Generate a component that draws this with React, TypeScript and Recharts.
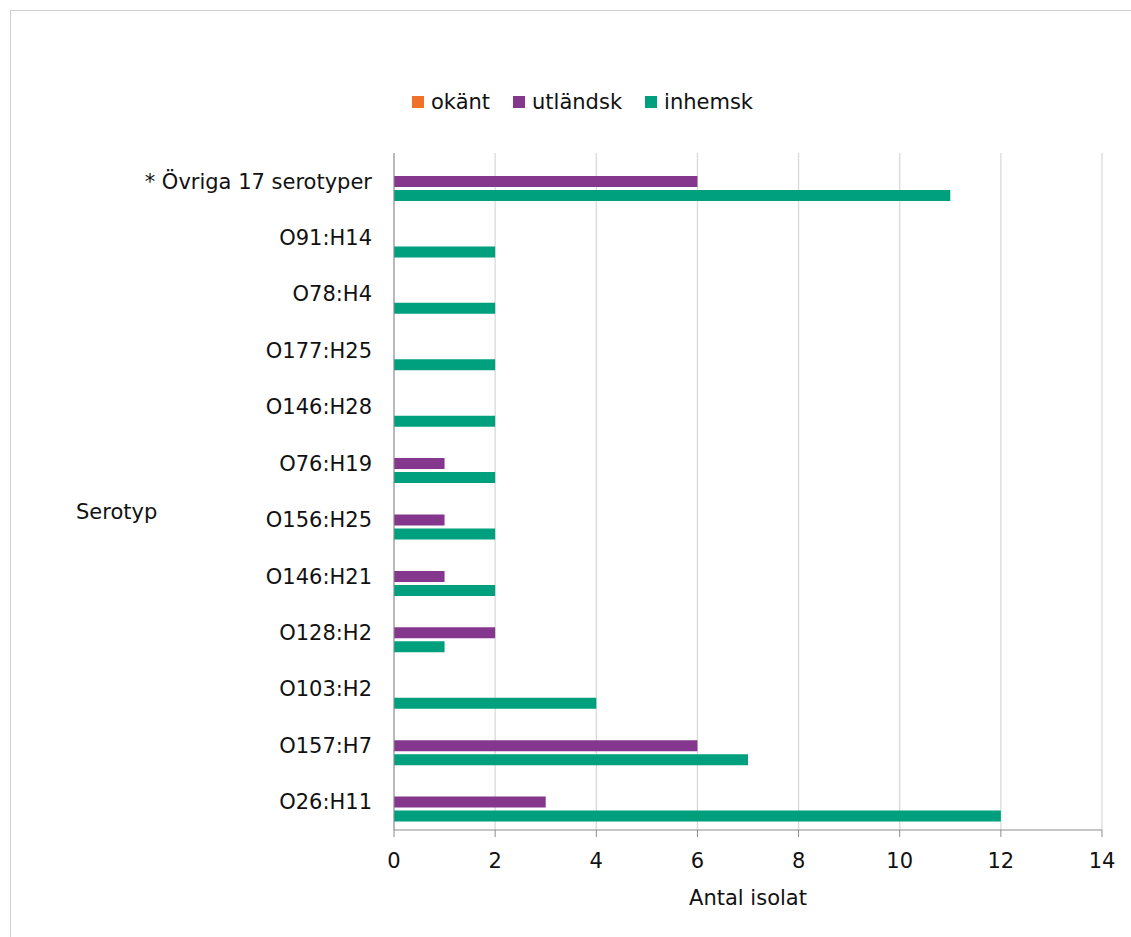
import { BarChart, Bar, XAxis, YAxis, CartesianGrid } from "recharts";

const serotypes = [
  "* Övriga 17 serotyper",
  "O91:H14",
  "O78:H4",
  "O177:H25",
  "O146:H28",
  "O76:H19",
  "O156:H25",
  "O146:H21",
  "O128:H2",
  "O103:H2",
  "O157:H7",
  "O26:H11",
];
const okant = [0, 0, 0, 0, 0, 0, 0, 0, 0, 0, 0, 0];
const utlandsk = [6, 0, 0, 0, 0, 1, 1, 1, 2, 0, 6, 3];
const inhemsk = [11, 2, 2, 2, 2, 2, 2, 2, 1, 4, 7, 12];
const xTicks = [0, 2, 4, 6, 8, 10, 12, 14];

const series = [
  { key: "okant", name: "okänt", color: "#EE7127" },
  { key: "utlandsk", name: "utländsk", color: "#84378C" },
  { key: "inhemsk", name: "inhemsk", color: "#00A07E" },
];

const data = serotypes.map((name, i) => ({
  name,
  okant: okant[i],
  utlandsk: utlandsk[i],
  inhemsk: inhemsk[i],
}));

const FONT = "'DejaVu Sans', Verdana, sans-serif";
const AXIS = "#8c8c8c";

function ChartLegend() {
  return (
    <div
      style={{
        position: "absolute",
        left: 0,
        top: 89,
        width: 1131,
        paddingLeft: 34,
        boxSizing: "border-box",
        display: "flex",
        justifyContent: "center",
        fontFamily: FONT,
        fontSize: 21,
        color: "#111",
        lineHeight: "26px",
      }}
    >
      {series.map((s, i) => (
        <div key={s.key} style={{ display: "flex", alignItems: "center", marginRight: i < series.length - 1 ? 23 : 0 }}>
          <span style={{ width: 12, height: 12, background: s.color, marginRight: 7, display: "inline-block" }} />
          <span>{s.name}</span>
        </div>
      ))}
    </div>
  );
}

export default function App() {
  return (
    <div style={{ position: "absolute", left: 0, top: 0, width: 1131, height: 937, overflow: "hidden", background: "#fff" }}>
      <div
        style={{
          position: "absolute",
          left: 10,
          top: 10,
          width: 1200,
          height: 1000,
          border: "1px solid #d0d0d0",
        }}
      />
      <BarChart
        width={1131}
        height={937}
        data={data}
        layout="vertical"
        margin={{ top: 153, right: 29, bottom: 0, left: 0 }}
        barSize={11}
        barGap={3}
        style={{ position: "absolute", left: 0, top: 0 }}
      >
        <CartesianGrid horizontal={false} stroke="#d9d9d9" strokeWidth={1.3} />
        <XAxis
          type="number"
          domain={[0, 14]}
          ticks={xTicks}
          height={107}
          stroke={AXIS}
          tickSize={7}
          tickMargin={16}
          tick={{ fontFamily: FONT, fontSize: 21, fill: "#111" }}
          label={(props: any) => {
            const vb = props.viewBox;
            return (
              <text x={vb.x + vb.width / 2} y={vb.y + 68} textAnchor="middle" dominantBaseline="central" fontFamily={FONT} fontSize={21} fill="#111">
                Antal isolat
              </text>
            );
          }}
        />
        <YAxis
          type="category"
          dataKey="name"
          width={394}
          stroke={AXIS}
          tickLine={false}
          tickSize={0}
          tickMargin={22}
          interval={0}
          tick={{ fontFamily: FONT, fontSize: 21, fill: "#111" }}
          label={(props: any) => {
            const vb = props.viewBox;
            return (
              <text x={vb.x + 76} y={vb.y + vb.height / 2 + 20} textAnchor="start" dominantBaseline="central" fontFamily={FONT} fontSize={21} fill="#111">
                Serotyp
              </text>
            );
          }}
        />
        {series.map((s) => (
          <Bar key={s.key} dataKey={s.key} name={s.name} fill={s.color} isAnimationActive={false} />
        ))}
      </BarChart>
      <ChartLegend />
    </div>
  );
}
